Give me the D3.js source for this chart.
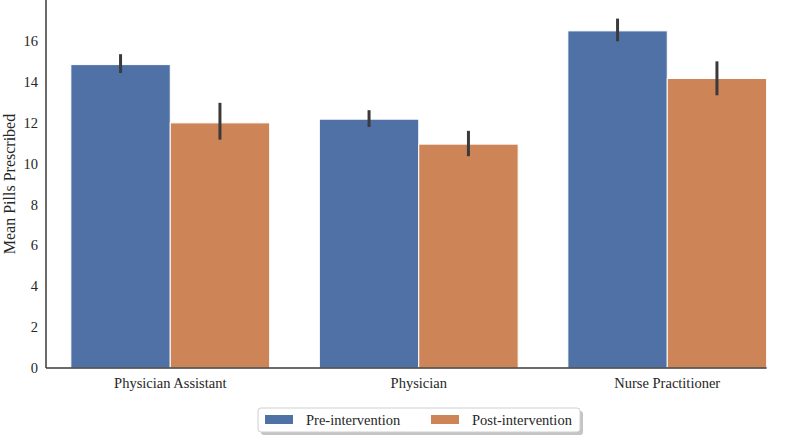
<!DOCTYPE html>
<html>
<head>
<meta charset="utf-8">
<script src="https://cdn.jsdelivr.net/npm/d3@7"></script>
<style>
  body { margin: 0; background: #fff; }
  svg { font-family: "Liberation Serif", "Times New Roman", serif; }
</style>
</head>
<body>
<svg id="chart"></svg>
<script>
// values
const roles = ["Physician Assistant", "Physician", "Nurse Practitioner"];
const periods = ["Pre-intervention", "Post-intervention"];
const preMean = [14.84, 12.17, 16.49];
const preLow = [14.43, 11.79, 15.98];
const preHigh = [15.35, 12.61, 17.09];
const postMean = [11.99, 10.95, 14.16];
const postLow = [11.17, 10.36, 13.34];
const postHigh = [12.97, 11.6, 15.0];
const yTicks = [0, 2, 4, 6, 8, 10, 12, 14, 16];

const colors = ["#4f71a5", "#cd8457"];

const W = 793, H = 437;
const margin = {top: 0, left: 46, bottom: 69, right: 2};

const svg = d3.select("#chart").attr("width", W).attr("height", H);

const x = d3.scaleBand().domain(roles).range([margin.left, margin.left + 3 * 248.5]);
const inner = d3.scaleBand().domain(periods).range([0, x.bandwidth()]).paddingOuter(0.25);
const y = d3.scaleLinear().domain([0, 18]).range([H - margin.bottom, margin.top]);

const rows = [];
roles.forEach((r, i) => {
  rows.push({role: r, period: periods[0], mean: preMean[i], lo: preLow[i], hi: preHigh[i]});
  rows.push({role: r, period: periods[1], mean: postMean[i], lo: postLow[i], hi: postHigh[i]});
});

const g = svg.append("g");

g.selectAll("rect.bar").data(rows).enter().append("rect")
  .attr("class", "bar")
  .attr("x", d => x(d.role) + inner(d.period))
  .attr("width", inner.bandwidth())
  .attr("y", d => y(d.mean))
  .attr("height", d => y(0) - y(d.mean))
  .attr("fill", d => colors[periods.indexOf(d.period)])
  .attr("stroke", "#fff")
  .attr("stroke-width", 1);

g.selectAll("line.err").data(rows).enter().append("line")
  .attr("class", "err")
  .attr("x1", d => x(d.role) + inner(d.period) + inner.bandwidth() / 2)
  .attr("x2", d => x(d.role) + inner(d.period) + inner.bandwidth() / 2)
  .attr("y1", d => y(d.lo))
  .attr("y2", d => y(d.hi))
  .attr("stroke", "#3a3a3a")
  .attr("stroke-width", 3);

// axes
const yAxis = svg.append("g")
  .attr("transform", `translate(${margin.left},0)`)
  .call(d3.axisLeft(y).tickValues(yTicks).tickSize(0).tickPadding(8));
yAxis.select(".domain").remove();
yAxis.attr("font-family", null);
yAxis.selectAll("text").attr("font-size", 14.5).attr("fill", "#262626");

const xAxis = svg.append("g")
  .attr("transform", `translate(0,${y(0)})`)
  .call(d3.axisBottom(x).tickSize(0).tickPadding(10));
xAxis.select(".domain").remove();
xAxis.attr("font-family", null);
xAxis.selectAll("text").attr("font-size", 14.5).attr("fill", "#262626");

// spines
svg.append("line")
  .attr("x1", margin.left).attr("x2", margin.left)
  .attr("y1", y(18)).attr("y2", y(0))
  .attr("stroke", "#3a3a3a").attr("stroke-width", 1.5);
svg.append("line")
  .attr("x1", margin.left).attr("x2", x(roles[2]) + inner(periods[1]) + inner.bandwidth())
  .attr("y1", y(0)).attr("y2", y(0))
  .attr("stroke", "#3a3a3a").attr("stroke-width", 1.5);

svg.append("text")
  .attr("transform", `translate(15,${y(9)}) rotate(-90)`)
  .attr("text-anchor", "middle")
  .attr("font-size", 16)
  .attr("fill", "#262626")
  .text("Mean Pills Prescribed");

// legend
const leg = svg.append("g").attr("transform", "translate(258,408)");
leg.append("rect")
  .attr("x", 3).attr("y", 3).attr("width", 322).attr("height", 24).attr("rx", 3)
  .attr("fill", "#8a8a8a").attr("opacity", 0.5);
leg.append("rect")
  .attr("width", 322).attr("height", 24).attr("rx", 3)
  .attr("fill", "#fff").attr("stroke", "#cfcfcf").attr("stroke-width", 1);

const legX = [7, 173];
const item = leg.selectAll("g.item").data(periods).enter().append("g")
  .attr("class", "item")
  .attr("transform", (d, i) => `translate(${legX[i]},0)`);
item.append("rect")
  .attr("y", 7).attr("width", 28).attr("height", 9)
  .attr("fill", (d, i) => colors[i]);
item.append("text")
  .attr("x", 41).attr("y", 17)
  .attr("font-size", 14.5)
  .attr("fill", "#262626")
  .text(d => d);
</script>
</body>
</html>
